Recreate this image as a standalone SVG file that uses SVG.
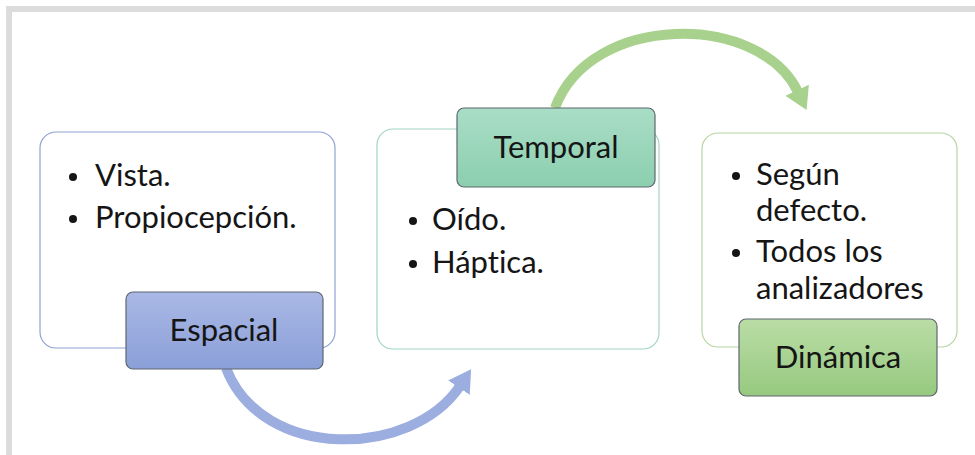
<svg xmlns="http://www.w3.org/2000/svg" width="975" height="455" viewBox="0 0 975 455">
<style>
.t{font-family:Lato,"Open Sans","Liberation Sans",sans-serif;font-size:31px;fill:#151515;font-variant-ligatures:none}
.c{text-anchor:middle}
.box{fill:#fff;stroke-width:1.2}
.lab{stroke:#5f6670;stroke-width:1.2}
</style>
<defs>
<linearGradient id="gB" x1="0" y1="0" x2="0" y2="1"><stop offset="0" stop-color="#a9b8e5"/><stop offset="1" stop-color="#8b9fd8"/></linearGradient>
<linearGradient id="gT" x1="0" y1="0" x2="0" y2="1"><stop offset="0" stop-color="#a9ddc6"/><stop offset="1" stop-color="#8ccfaf"/></linearGradient>
<linearGradient id="gG" x1="0" y1="0" x2="0" y2="1"><stop offset="0" stop-color="#badda6"/><stop offset="1" stop-color="#96c97f"/></linearGradient>
<marker id="mB" markerUnits="userSpaceOnUse" markerWidth="30" markerHeight="30" refX="2" refY="13" orient="auto"><path d="M0,0 L22,13 L0,26 Z" fill="#9cade0"/></marker>
<marker id="mG" markerUnits="userSpaceOnUse" markerWidth="30" markerHeight="30" refX="2" refY="13" orient="auto"><path d="M0,0 L22,13 L0,26 Z" fill="#a9d18e"/></marker>
</defs>
<rect x="0" y="0" width="975" height="455" fill="#fff"/>
<path d="M6,455 V6 H975 V12 H12 V455 Z" fill="#dcdcdc"/>
<g id="connectors">
<path d="M226,368 C262,462 412,458 460,386" fill="none" stroke="#9cade0" stroke-width="10" marker-end="url(#mB)"/>
<path d="M555,108 C590,12 760,12 798,92" fill="none" stroke="#a9d18e" stroke-width="10" marker-end="url(#mG)"/>
</g>
<g id="espacial">
<rect class="box" x="40" y="132" width="295" height="216" rx="16" stroke="#8fa2d4"/>
<circle cx="73" cy="177" r="4" fill="#151515"/>
<text class="t" x="95" y="186">Vista.</text>
<circle cx="73" cy="219" r="4" fill="#151515"/>
<text class="t" x="95" y="228">Propiocepción.</text>
<rect class="lab" x="126" y="292" width="197" height="77" rx="7" fill="url(#gB)"/>
<text class="t c" x="224" y="341">Espacial</text>
</g>
<g id="temporal">
<rect class="box" x="377" y="129" width="282" height="220" rx="16" stroke="#a2d6c1"/>
<circle cx="413" cy="221" r="4" fill="#151515"/>
<text class="t" x="432" y="230">Oído.</text>
<circle cx="413" cy="264" r="4" fill="#151515"/>
<text class="t" x="432" y="273">Háptica.</text>
<rect class="lab" x="457" y="108" width="198" height="79" rx="7" fill="url(#gT)"/>
<text class="t c" x="556" y="158">Temporal</text>
</g>
<g id="dinamica">
<rect class="box" x="702" y="133" width="255" height="214" rx="16" stroke="#b6d5a1"/>
<circle cx="736" cy="176" r="4" fill="#151515"/>
<text class="t" x="756" y="185">Según</text>
<text class="t" x="756" y="221">defecto.</text>
<circle cx="736" cy="253" r="4" fill="#151515"/>
<text class="t" x="756" y="262">Todos los</text>
<text class="t" x="756" y="299">analizadores</text>
<rect class="lab" x="739" y="319" width="198" height="77" rx="7" fill="url(#gG)"/>
<text class="t c" x="838" y="368">Dinámica</text>
</g>
</svg>
